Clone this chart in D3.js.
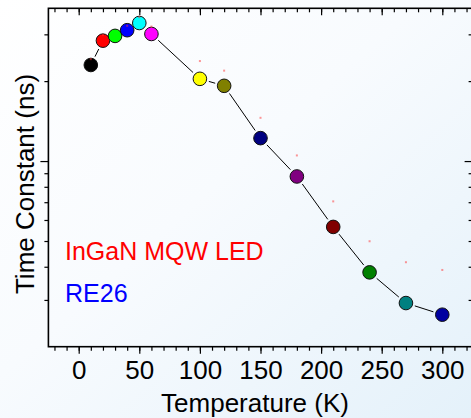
<!DOCTYPE html>
<html>
<head>
<meta charset="utf-8">
<script src="https://cdn.jsdelivr.net/npm/d3@7/dist/d3.min.js"></script>
<style>
  html, body { margin: 0; padding: 0; background: #fff; }
  svg { display: block; }
  text { font-family: "Liberation Sans", Arial, sans-serif; }
</style>
</head>
<body>
<svg id="chart" width="471" height="418"></svg>
<script>
// Temperature-dependent decay time constant of the InGaN MQW LED (sample RE26)
const temperatures = [10, 20, 30, 40, 50, 60, 100, 120, 150, 180, 210, 240, 270, 300];
const timeConstants = [23.0, 28.4, 29.6, 31.1, 33.1, 30.1, 20.4, 19.2, 12.2, 8.75, 5.65, 3.81, 2.92, 2.64];
const markerColors = ["#000000", "#ff0000", "#00ff00", "#0000ff", "#00ffff", "#ff00ff", "#ffff00",
                      "#808000", "#000080", "#800080", "#800000", "#008000", "#008080", "#0000a0"];
// faint companion points (second time constant estimate)
const companionValues = [24.2, 29.8, null, 32.3, 34.8, 32.1, 23.8, 21.9, 14.55, 10.5, 7.05, 4.99, 4.16, 3.89];

const xLabelTicks = [0, 50, 100, 150, 200, 250, 300];
const xMinorTicks = d3.range(-20, 321, 10);
const yDecadeTicks = [10];
const yMinorTicks = [3, 4, 5, 6, 7, 8, 9, 20, 30];

const legendLines = [
  { text: "InGaN MQW LED", color: "#ff0000" },
  { text: "RE26", color: "#0000ff" }
];

const W = 471, H = 418;
const plotLeft = 48.4, plotRight = 472.6, plotTop = 8.3, plotBottom = 346.7;

const svg = d3.select("#chart");

// soft diagonal backdrop
const defs = svg.append("defs");
const grad = defs.append("linearGradient").attr("id", "bg")
  .attr("x1", 0).attr("y1", 0).attr("x2", 1).attr("y2", 1);
grad.append("stop").attr("offset", "0%").attr("stop-color", "#ffffff");
grad.append("stop").attr("offset", "45%").attr("stop-color", "#f8fbfe");
grad.append("stop").attr("offset", "100%").attr("stop-color", "#e4f1fa");
svg.append("rect").attr("width", W).attr("height", H).attr("fill", "url(#bg)");

const x = d3.scaleLinear().domain([-25, 325]).range([plotLeft, plotRight]);
const y = d3.scaleLog().domain([2, 37.6]).range([plotBottom, plotTop]);

const axisStyle = g => {
  g.select(".domain").remove();
  g.selectAll(".tick line").attr("stroke", "#000").attr("stroke-width", 1.2);
};

// bottom axis: minor ticks, then labelled major ticks
svg.append("g").attr("transform", `translate(0,${plotBottom})`)
  .call(d3.axisBottom(x).tickValues(xMinorTicks).tickSize(4).tickFormat(""))
  .call(axisStyle);
svg.append("g").attr("transform", `translate(0,${plotBottom})`)
  .call(d3.axisBottom(x).tickValues(xLabelTicks).tickSize(7).tickPadding(7).tickFormat(d3.format("d")))
  .call(axisStyle)
  .call(g => g.selectAll("text").attr("fill", "#000").attr("font-size", 26)
    .attr("font-family", "Liberation Sans, Arial, sans-serif"));

// top axis: ticks pointing inward
svg.append("g").attr("transform", `translate(0,${plotTop})`)
  .call(d3.axisTop(x).tickValues(xMinorTicks).tickSize(-4).tickFormat(""))
  .call(axisStyle);
svg.append("g").attr("transform", `translate(0,${plotTop})`)
  .call(d3.axisTop(x).tickValues(xLabelTicks).tickSize(-7).tickFormat(""))
  .call(axisStyle);

// left axis: outward ticks, no labels
svg.append("g").attr("transform", `translate(${plotLeft},0)`)
  .call(d3.axisLeft(y).tickValues(yMinorTicks).tickSize(4).tickFormat(""))
  .call(axisStyle);
svg.append("g").attr("transform", `translate(${plotLeft},0)`)
  .call(d3.axisLeft(y).tickValues(yDecadeTicks).tickSize(8).tickFormat(""))
  .call(axisStyle);

// right axis: inward ticks
svg.append("g").attr("transform", `translate(${plotRight},0)`)
  .call(d3.axisRight(y).tickValues(yMinorTicks).tickSize(-4).tickFormat(""))
  .call(axisStyle);
svg.append("g").attr("transform", `translate(${plotRight},0)`)
  .call(d3.axisRight(y).tickValues(yDecadeTicks).tickSize(-8).tickFormat(""))
  .call(axisStyle);

// frame
svg.append("rect")
  .attr("x", plotLeft).attr("y", plotTop)
  .attr("width", plotRight - plotLeft).attr("height", plotBottom - plotTop)
  .attr("fill", "none").attr("stroke", "#000").attr("stroke-width", 1.6);

// connecting line with gaps at the markers
const r = 6.8, gap = 2.5;
const pts = temperatures.map((t, i) => [x(t), y(timeConstants[i])]);
const segs = svg.append("g").attr("stroke", "#000").attr("stroke-width", 1);
for (let i = 0; i < pts.length - 1; i++) {
  const [x0, y0] = pts[i], [x1, y1] = pts[i + 1];
  const dx = x1 - x0, dy = y1 - y0, len = Math.hypot(dx, dy);
  const cut = r + gap;
  if (len <= 2 * cut) continue;
  const ux = dx / len, uy = dy / len;
  segs.append("line")
    .attr("x1", x0 + ux * cut).attr("y1", y0 + uy * cut)
    .attr("x2", x1 - ux * cut).attr("y2", y1 - uy * cut);
}

// markers
svg.append("g").selectAll("circle")
  .data(temperatures)
  .join("circle")
  .attr("cx", d => x(d))
  .attr("cy", (d, i) => y(timeConstants[i]))
  .attr("r", r)
  .attr("fill", (d, i) => markerColors[i])
  .attr("stroke", "#111")
  .attr("stroke-width", 1);

// faint companion points
svg.append("g").selectAll("rect")
  .data(temperatures.map((t, i) => ({ t, v: companionValues[i] })).filter(d => d.v != null))
  .join("rect")
  .attr("x", d => x(d.t) - 1)
  .attr("y", d => y(d.v) - 1)
  .attr("width", 2).attr("height", 2)
  .attr("fill", "#ff3030").attr("opacity", 0.5);

// legend text
svg.append("g").selectAll("text")
  .data(legendLines)
  .join("text")
  .attr("x", 65)
  .attr("y", (d, i) => 260 + i * 41.5)
  .attr("font-size", 25)
  .attr("fill", d => d.color)
  .text(d => d.text);

// axis titles
svg.append("text")
  .attr("x", 255).attr("y", 412)
  .attr("text-anchor", "middle")
  .attr("font-size", 26)
  .attr("fill", "#000")
  .text("Temperature (K)");

svg.append("text")
  .attr("transform", "translate(33.5,184) rotate(-90)")
  .attr("text-anchor", "middle")
  .attr("font-size", 26)
  .attr("fill", "#000")
  .text("Time Constant (ns)");
</script>
</body>
</html>
